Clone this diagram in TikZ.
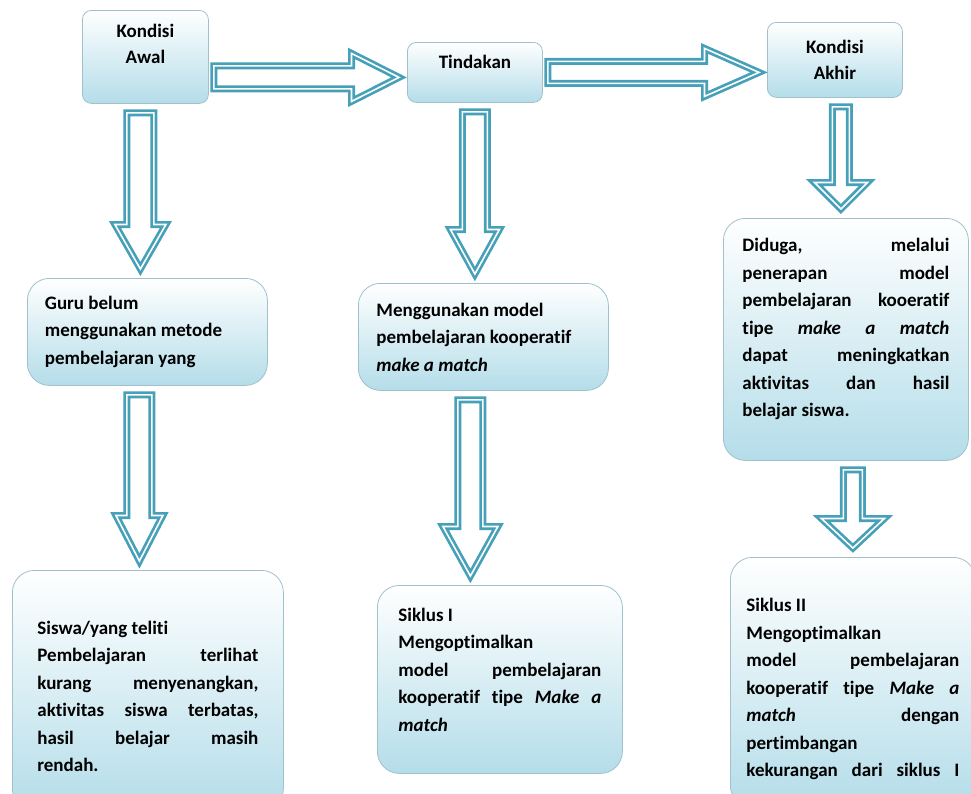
\documentclass[tikz,border=0pt]{standalone}
\usepackage{fontspec}
\setmainfont{Carlito}[Ligatures=NoCommon]
\usetikzlibrary{calc}
\setlength{\parindent}{0pt}
\hyphenpenalty=10000
\tolerance=10000
\hbadness=10000

\definecolor{boxblue}{RGB}{180,221,233}
\definecolor{boxedge}{RGB}{160,192,204}
\definecolor{arrteal}{RGB}{70,160,184}

\newcommand{\padtop}[1]{\hrule height #1 depth 0pt width 0pt\relax}
\newcommand{\padbot}[1]{\par\hrule height 0pt depth #1 width 0pt\relax}

\tikzset{
    hollow/.style={draw=arrteal, line width=7pt, line join=miter, fill=white,
        postaction={draw=white, line width=1.6pt, line join=miter}},
    topbox/.style={draw=boxedge, line width=0.8pt, rounded corners=9pt,
        top color=white, bottom color=boxblue, anchor=north west, align=center,
        inner sep=0pt, font=\fontsize{19}{26}\selectfont\bfseries},
    txtbox/.style={draw=boxedge, line width=0.8pt, rounded corners=22pt,
        top color=white, bottom color=boxblue, anchor=north west, align=justify,
        inner ysep=0pt, font=\fontsize{19}{27.5}\selectfont\bfseries}
}

% #1 from, #2 to, #3 x shift, #4 half shaft, #5 half head, #6 head length
\newcommand{\fatdown}[6]{%
    \coordinate (t) at ($(#1.south)+(#3,9)$);
    \coordinate (b) at ($(t |- #2.north)+(0,-9)$);
    \draw[hollow] ($(t)+(-#4,0)$) -- ($(b)+(-#4,-#6)$) -- ($(b)+(-#5,-#6)$) -- (b)
        -- ($(b)+(#5,-#6)$) -- ($(b)+(#4,-#6)$) -- ($(t)+(#4,0)$) -- cycle;
}
% #1 from, #2 to, #3 y shift, #4 half shaft, #5 half head, #6 head length
\newcommand{\fatright}[6]{%
    \coordinate (r) at ($(#2.west)+(-8,#3)$);
    \coordinate (l) at ($(r -| #1.east)+(5,0)$);
    \draw[hollow] ($(l)+(0,-#4)$) -- ($(r)+(-#6,-#4)$) -- ($(r)+(-#6,-#5)$) -- (r)
        -- ($(r)+(-#6,#5)$) -- ($(r)+(-#6,#4)$) -- ($(l)+(0,#4)$) -- cycle;
}

\begin{document}
\begin{tikzpicture}[x=1pt, y=-1pt]
    \useasboundingbox (0,0) rectangle (971,793);
    \clip (0,0) rectangle (971,793);

    \node[topbox, minimum width=126, minimum height=93, text depth=26] (awal) at (82,10) {Kondisi\\Awal};
    \node[topbox, minimum width=135, minimum height=60, text depth=22] (tindakan) at (407,42) {Tindakan};
    \node[topbox, minimum width=135, minimum height=75] (akhir) at (767,22) {Kondisi\\Akhir};

    \node[txtbox, text width=205, inner xsep=17.5, minimum height=107] (guru) at (27,278)
        {Guru belum\newline menggunakan metode\newline pembelajaran yang};
    \node[txtbox, text width=214, inner xsep=18, minimum height=107] (guna) at (358,283)
        {Menggunakan model\newline pembelajaran kooperatif\newline \textit{make a match}};
    \node[txtbox, text width=207, inner xsep=19, minimum height=242] (duga) at (723,218)
        {Diduga, melalui\linebreak penerapan model\linebreak pembelajaran kooeratif\linebreak
         tipe \textit{make a match}\linebreak dapat meningkatkan\linebreak
         aktivitas dan hasil\linebreak belajar siswa.\padbot{20pt}};
    \node[txtbox, text width=221, inner xsep=25, minimum height=240] (siswa) at (12,570)
        {\padtop{12pt}Siswa/yang teliti\newline Pembelajaran terlihat\linebreak kurang menyenangkan,\linebreak
         aktivitas siswa terbatas,\linebreak hasil belajar masih\linebreak rendah.};
    \node[txtbox, text width=203, inner xsep=21, minimum height=188] (siklusa) at (377,585)
        {Siklus I\newline Mengoptimalkan\newline model pembelajaran\linebreak
         kooperatif tipe \textit{Make a}\linebreak \textit{match}\padbot{20pt}};
    \node[txtbox, text width=213, inner xsep=16, minimum height=250] (siklusb) at (730,557)
        {\padtop{14pt}Siklus II\newline Mengoptimalkan\newline model pembelajaran\linebreak
         kooperatif tipe \textit{Make a}\linebreak \textit{match} dengan\linebreak
         pertimbangan\newline kekurangan\hfill dari\hfill siklus\hfill I};

    \fatright{awal}{tindakan}{5}{11.5}{24}{47.5}
    \fatright{tindakan}{akhir}{12.5}{11}{24}{54.5}

    \fatdown{awal}{guru}{-5}{13.5}{25.5}{44.5}
    \fatdown{tindakan}{guna}{0}{12.5}{24.5}{44.5}
    \fatdown{akhir}{duga}{6}{8.5}{26.5}{26.5}
    \fatdown{guru}{siswa}{-8}{12.5}{23.5}{45.5}
    \fatdown{guna}{siklusa}{-13}{12.5}{27.5}{49.5}
    \fatdown{duga}{siklusb}{7}{9.5}{31.5}{29.5}
\end{tikzpicture}
\end{document}
